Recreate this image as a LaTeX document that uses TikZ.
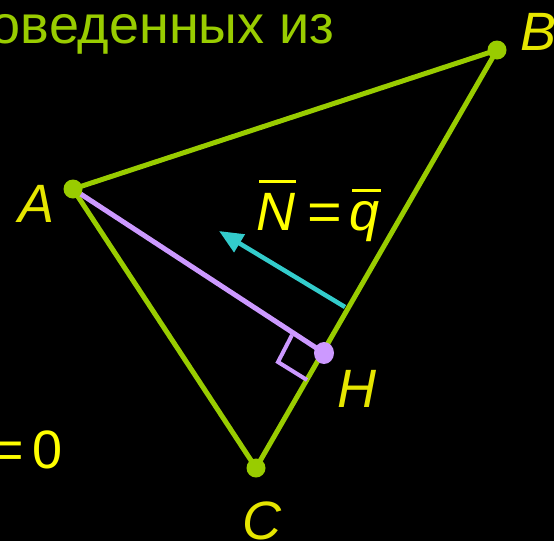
\documentclass[tikz,border=0pt]{standalone}
\usepackage{fontspec}
\setmainfont{Liberation Sans}
\usetikzlibrary{arrows.meta,shapes.geometric}
\definecolor{lgreen}{HTML}{99CC00}
\definecolor{lpurple}{HTML}{CC99FF}
\definecolor{lcyan}{HTML}{33CCCC}
\definecolor{lyellow}{HTML}{E6E600}
\definecolor{byellow}{HTML}{FFFF00}
\tikzset{
  side/.style={lgreen, line width=5pt},
  alt/.style={lpurple, line width=5pt},
  vdot/.style={circle, fill=lgreen, inner sep=0pt, minimum size=19pt},
  hdot/.style={ellipse, fill=lpurple, inner sep=0pt, minimum width=20pt, minimum height=22pt},
  lbl/.style={text=lyellow, font=\fontsize{54}{60}\selectfont\itshape, inner sep=0pt},
  eqtxt/.style={text=byellow, font=\fontsize{54}{60}\selectfont, inner sep=0pt},
  bar/.style={byellow, line width=3pt},
}
\begin{document}
\begin{tikzpicture}[x=1pt,y=-1pt]
\fill[black] (0,0) rectangle (554,541);
\useasboundingbox (0,0) rectangle (554,541);
% top text
\node[anchor=base east, text=lgreen, font=\fontsize{54}{60}\selectfont, inner sep=0pt] (title) at (335,43) {оведенных из};
% vertices
\coordinate (A) at (73,189);
\coordinate (B) at (497,50);
\coordinate (C) at (256,468);
\coordinate (H) at (324,353);
\draw[side, line cap=round] (A) -- (B) -- (C) -- cycle;
\draw[alt] (A) -- (H);
% right angle mark
\coordinate (r1) at (292,335);
\coordinate (r2) at (278,362);
\coordinate (r3) at (307,380);
\draw[lpurple, line width=4pt] (r1) -- (r2) -- (r3);
% vector
\coordinate (v1) at (345,307);
\coordinate (v2) at (219,231);
\draw[lcyan, line width=4.5pt, -{Triangle[length=24pt,width=20pt]}] (v1) -- (v2);
% dots
\node[vdot] (dA) at (A) {};
\node[vdot] (dB) at (B) {};
\node[vdot] (dC) at (C) {};
\node[hdot] (dH) at (H) {};
% labels
\node[lbl, anchor=base] (lA) at (37,222) {A};
\node[lbl, anchor=base west] (lB) at (520,50) {B};
\node[lbl, anchor=base] (lC) at (262,539) {C};
\node[lbl, anchor=base] (lH) at (357,407) {H};
% N = q
\node[eqtxt, anchor=base west] (nN) at (256,230) {\itshape N};
\node[eqtxt, anchor=base, xscale=1.1] (nEq) at (325,230) {=};
\node[eqtxt, anchor=base west] (nq) at (349,230) {\itshape q};
\coordinate (b1) at (259,181);
\coordinate (b2) at (296,181);
\coordinate (b3) at (352,190);
\coordinate (b4) at (381,190);
\draw[bar] (b1) -- (b2);
\draw[bar] (b3) -- (b4);
% = 0 at left
\node[eqtxt, anchor=base, xscale=1.1] (zEq) at (7,468) {=};
\node[eqtxt, anchor=base west] (zero) at (32,468) {0};
\end{tikzpicture}
\end{document}
